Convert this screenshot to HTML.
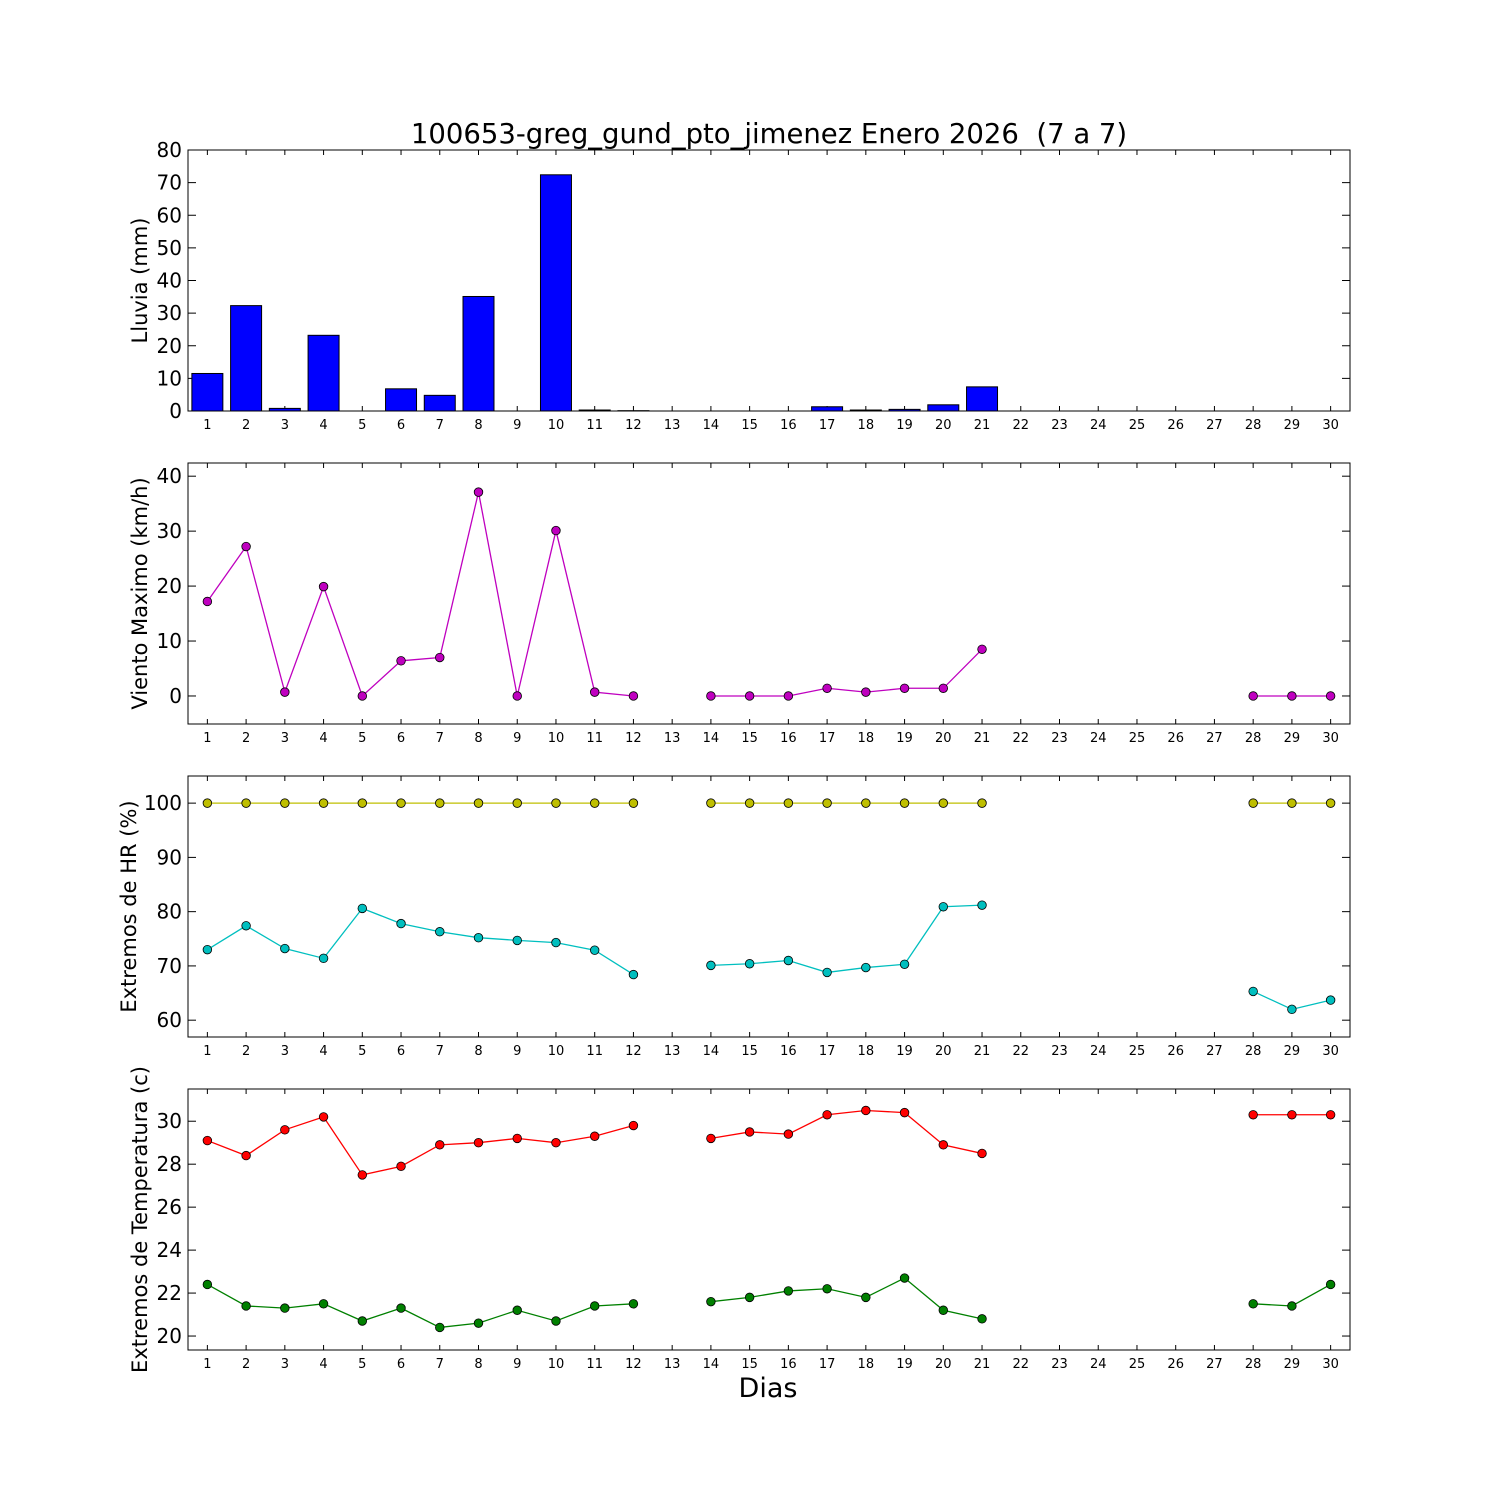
<!DOCTYPE html>
<html><head><meta charset="utf-8"><style>
html,body{margin:0;padding:0;background:#fff;}
svg{display:block;font-family:"DejaVu Sans","Liberation Sans",sans-serif;}
</style></head><body>
<svg id="chart" width="1500" height="1500" viewBox="0 0 1500 1500" xmlns="http://www.w3.org/2000/svg">
<rect width="1500" height="1500" fill="#fff"/>
<text x="769" y="143" font-size="27.5" text-anchor="middle" style="white-space:pre" xml:space="preserve">100653-greg_gund_pto_jimenez Enero 2026  (7 a 7)</text>
<text x="768" y="1397" font-size="27" text-anchor="middle">Dias</text>
</svg>
<script>
const days = Array.from({length:30},(_,i)=>i+1);
const rain = [11.5,32.3,0.8,23.2,0,6.8,4.8,35.1,0,72.4,0.3,0.1,0,0,0,0,1.3,0.3,0.5,1.9,7.4,0,0,0,0,0,0,0,0,0];
const windMax = [17.2,27.2,0.7,19.9,0,6.4,7.0,37.1,0,30.1,0.7,0,null,0,0,0,1.4,0.7,1.4,1.4,8.5,null,null,null,null,null,null,0,0,0];
const hrMax = [100,100,100,100,100,100,100,100,100,100,100,100,null,100,100,100,100,100,100,100,100,null,null,null,null,null,null,100,100,100];
const hrMin = [73.0,77.4,73.2,71.4,80.6,77.8,76.3,75.2,74.7,74.3,72.9,68.4,null,70.1,70.4,71.0,68.8,69.7,70.3,80.9,81.2,null,null,null,null,null,null,65.3,62.0,63.7];
const tMax = [29.1,28.4,29.6,30.2,27.5,27.9,28.9,29.0,29.2,29.0,29.3,29.8,null,29.2,29.5,29.4,30.3,30.5,30.4,28.9,28.5,null,null,null,null,null,null,30.3,30.3,30.3];
const tMin = [22.4,21.4,21.3,21.5,20.7,21.3,20.4,20.6,21.2,20.7,21.4,21.5,null,21.6,21.8,22.1,22.2,21.8,22.7,21.2,20.8,null,null,null,null,null,null,21.5,21.4,22.4];
const rainTicks = [0,10,20,30,40,50,60,70,80];
const windTicks = [0,10,20,30,40];
const hrTicks = [60,70,80,90,100];
const tTicks = [20,22,24,26,28,30];

const NS="http://www.w3.org/2000/svg";
const svg=document.getElementById('chart');
const L=188,R=1350;
const xs=d=>L+(d-0.5)*(R-L)/30;
function el(tag,attrs,parent){const e=document.createElementNS(NS,tag);for(const k in attrs)e.setAttribute(k,attrs[k]);(parent||svg).appendChild(e);return e;}

function panel(name,top,bot,ymin,ymax,ticks,label,lx){
  const g=el('g',{});
  
  
  const ys=v=>bot-(v-ymin)/(ymax-ymin)*(bot-top);
  days.forEach(d=>{
    const x=xs(d);
    el('line',{x1:x,y1:bot,x2:x,y2:bot-5,stroke:'#000','stroke-width':1},g);
    el('line',{x1:x,y1:top,x2:x,y2:top+5,stroke:'#000','stroke-width':1},g);
    const t=el('text',{x:x,y:bot+18,'font-size':13,'text-anchor':'middle'},g);
    t.textContent=d;
    
    
  });
  ticks.forEach(v=>{
    const y=ys(v);
    el('line',{x1:L,y1:y,x2:L+8,y2:y,stroke:'#000'},g);
    el('line',{x1:R,y1:y,x2:R-8,y2:y,stroke:'#000'},g);
    const t=el('text',{x:L-6,y:y+7,'font-size':20,'text-anchor':'end'},g);
    t.textContent=v;
    
    
  });
  const cy=(top+bot)/2;
  const lt=el('text',{x:0,y:0,'font-size':21,'text-anchor':'middle',transform:`translate(${lx},${cy}) rotate(-90)`},g);
  lt.textContent=label;
  
  
  return {g,ys,top,bot};
}
function frame(p){el('rect',{x:L,y:p.top,width:R-L,height:p.bot-p.top,fill:'none',stroke:'#000','stroke-width':1},p.g);}
function series(p,vals,color,name){
  let seg=[];
  const segs=[];
  vals.forEach((v,i)=>{if(v===null){if(seg.length)segs.push(seg);seg=[];}else seg.push([xs(days[i]),p.ys(v)]);});
  if(seg.length)segs.push(seg);
  segs.forEach(s=>{
    const pl=el('polyline',{points:s.map(q=>q.join(',')).join(' '),fill:'none',stroke:color,'stroke-width':1.3},p.g);
    
    
  });
  vals.forEach((v,i)=>{if(v===null)return;
    const c=el('circle',{cx:xs(days[i]),cy:p.ys(v),r:4.3,fill:color,stroke:'#000','stroke-width':0.8},p.g);
    
    
  });
}

const p1=panel('rain',150,411,0,80,rainTicks,'Lluvia (mm)',147);
const bw=0.8*(R-L)/30;
rain.forEach((v,i)=>{
  const y=p1.ys(v);
  const b=el('rect',{x:xs(days[i])-bw/2,y:y,width:bw,height:p1.bot-y,fill:'#0000ff',stroke:'#000','stroke-width':1},p1.g);
  
  
});
frame(p1);

const p2=panel('wind',463,724,-5.1,42.4,windTicks,'Viento Maximo (km/h)',147);
series(p2,windMax,'#bf00bf','wind-max');
frame(p2);

const p3=panel('humidity',776,1037,56.9,105,hrTicks,'Extremos de HR (%)',136);
series(p3,hrMax,'#bfbf00','hr-max');
series(p3,hrMin,'#00bfbf','hr-min');
frame(p3);

const p4=panel('temperature',1089,1350,19.35,31.5,tTicks,'Extremos de Temperatura (c)',147);
series(p4,tMax,'#ff0000','temp-max');
series(p4,tMin,'#008000','temp-min');
frame(p4);
</script>
</body></html>
